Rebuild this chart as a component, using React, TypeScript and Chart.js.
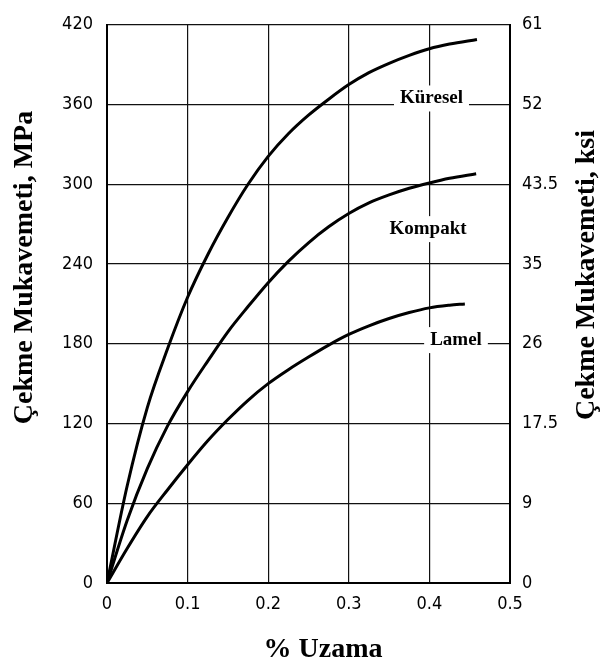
import React, { useEffect, useRef } from "react";
import { Chart, registerables } from "chart.js";

Chart.register(...registerables);

// Küresel (spheroidal) curve
const KURESEL_X = [0, 0.025, 0.05, 0.075, 0.1, 0.125, 0.15, 0.175, 0.2, 0.225, 0.25, 0.275, 0.3, 0.325, 0.35, 0.375, 0.4, 0.425, 0.459];
const KURESEL_Y = [0, 73, 132, 176, 215, 247, 275, 300, 321, 338, 352, 364, 375, 384, 391, 397, 402, 405.5, 409];
// Kompakt (compacted) curve
const KOMPAKT_X = [0, 0.025, 0.05, 0.075, 0.1, 0.125, 0.15, 0.175, 0.2, 0.225, 0.25, 0.275, 0.3, 0.325, 0.35, 0.375, 0.4, 0.425, 0.458];
const KOMPAKT_Y = [0, 47, 86, 118, 144, 167, 189, 208, 226, 242, 256, 268, 278, 286, 292, 297, 301, 304.5, 308];
// Lamel (flake) curve
const LAMEL_X = [0, 0.025, 0.05, 0.075, 0.1, 0.125, 0.15, 0.175, 0.2, 0.225, 0.25, 0.275, 0.3, 0.325, 0.35, 0.375, 0.4, 0.425, 0.444];
const LAMEL_Y = [0, 26, 50, 70, 89, 107, 123, 137.5, 150, 160.5, 170, 179, 187, 193.5, 199, 203.5, 207, 209, 210];

const KSI_LABELS = ["0", "9", "17.5", "26", "35", "43.5", "52", "61"];

const CURVE_LABELS = ["Küresel", "Kompakt", "Lamel"];
const CURVE_LABEL_X = [0.4026, 0.3983, 0.433];
const CURVE_LABEL_Y = [360.8, 262.5, 179];

const LEFT_TITLE = "Çekme Mukavemeti, MPa";
const RIGHT_TITLE = "Çekme Mukavemeti, ksi";
const X_TITLE = "% Uzama";

const TICK_FONT = { family: "'Liberation Sans Narrow', 'DejaVu Sans Condensed', 'Liberation Sans', sans-serif", size: 18 };
const SERIF = "'Liberation Serif', 'DejaVu Serif', serif";

const toPts = (xs: number[], ys: number[]) => xs.map((x, i) => ({ x, y: ys[i] }));

const textPlugin = {
  id: "textPlugin",
  afterDraw(chart: any) {
    const ctx = chart.ctx;
    const xs = chart.scales.x;
    const ys = chart.scales.y;
    ctx.save();
    // curve labels with white background
    ctx.font = `bold 19px ${SERIF}`;
    ctx.textAlign = "center";
    ctx.textBaseline = "alphabetic";
    CURVE_LABELS.forEach((t, i) => {
      const px = xs.getPixelForValue(CURVE_LABEL_X[i]);
      const py = ys.getPixelForValue(CURVE_LABEL_Y[i]);
      const w = ctx.measureText(t).width;
      ctx.fillStyle = "#fff";
      ctx.fillRect(px - w / 2 - 6, py - 18, w + 12, 26);
      ctx.fillStyle = "#000";
      ctx.fillText(t, px, py);
    });
    // axis titles
    ctx.font = `bold 28px ${SERIF}`;
    ctx.fillStyle = "#000";
    ctx.textAlign = "center";
    ctx.textBaseline = "alphabetic";
    ctx.fillText(X_TITLE, (263 + 383) / 2, 657);
    ctx.save();
    ctx.translate(32, 267.5);
    ctx.rotate(-Math.PI / 2);
    ctx.fillText(LEFT_TITLE, 0, 0);
    ctx.restore();
    ctx.save();
    ctx.translate(594, 275);
    ctx.rotate(-Math.PI / 2);
    ctx.fillText(RIGHT_TITLE, 0, 0);
    ctx.restore();
    ctx.restore();
  },
};

export default function App() {
  const ref = useRef<HTMLCanvasElement | null>(null);
  useEffect(() => {
    if (!ref.current) return;
    const mk = (label: string, xs: number[], ys: number[]) => ({
      label,
      data: toPts(xs, ys),
      borderColor: "#000",
      backgroundColor: "#000",
      borderWidth: 3,
      pointRadius: 0,
      fill: false,
      cubicInterpolationMode: "monotone" as const,
    });
    const chart = new Chart(ref.current, {
      type: "line",
      data: {
        datasets: [
          mk("Küresel", KURESEL_X, KURESEL_Y),
          mk("Kompakt", KOMPAKT_X, KOMPAKT_Y),
          mk("Lamel", LAMEL_X, LAMEL_Y),
        ],
      },
      options: {
        animation: false,
        responsive: true,
        maintainAspectRatio: false,
        layout: { padding: { top: 15, left: 0, right: 0, bottom: 0 } },
        plugins: { legend: { display: false }, tooltip: { enabled: false }, title: { display: false } },
        scales: {
          x: {
            type: "linear",
            min: 0,
            max: 0.5,
            ticks: {
              stepSize: 0.1,
              color: "#000",
              font: TICK_FONT,
              padding: 11,
              maxRotation: 0,
              callback: (v: any) => String(Number(Number(v).toFixed(1))),
            },
            grid: { color: "#111", lineWidth: 1.2, drawTicks: false },
            border: { color: "#000", width: 2 },
            afterFit: (s: any) => { s.height = 79; },
          },
          y: {
            type: "linear",
            position: "left",
            min: 0,
            max: 420,
            ticks: { stepSize: 60, color: "#000", font: TICK_FONT, padding: 14 },
            grid: { color: "#111", lineWidth: 1.2, drawTicks: false },
            border: { color: "#000", width: 2 },
            afterFit: (s: any) => { s.width = 107; },
          },
          y2: {
            type: "linear",
            position: "right",
            min: 0,
            max: 420,
            ticks: {
              stepSize: 60,
              color: "#000",
              font: TICK_FONT,
              padding: 12,
              callback: (_v: any, i: number) => KSI_LABELS[i],
            },
            grid: { display: false, drawTicks: false },
            border: { color: "#000", width: 2 },
            afterFit: (s: any) => { s.width = 90; },
          },
        },
      },
      plugins: [textPlugin],
    });
    return () => chart.destroy();
  }, []);
  return (
    <div style={{ position: "fixed", left: 0, top: 0, width: 600, height: 662, background: "#fff" }}>
      <canvas ref={ref} />
    </div>
  );
}
